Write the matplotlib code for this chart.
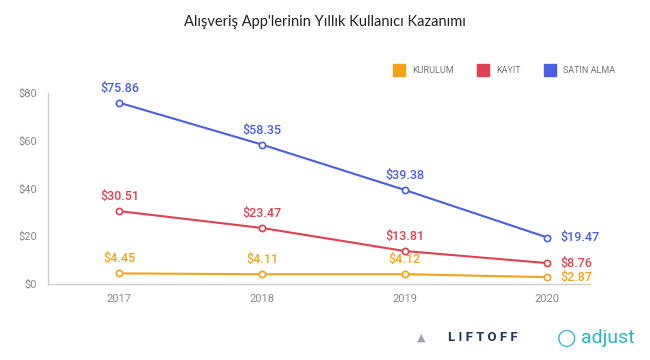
import matplotlib.pyplot as plt
from matplotlib.lines import Line2D

plt.rcParams['font.family'] = ['Roboto', 'DejaVu Sans']

years = [2017, 2018, 2019, 2020]
kurulum = [4.45, 4.11, 4.12, 2.87]
kayit = [30.51, 23.47, 13.81, 8.76]
satin_alma = [75.86, 58.35, 39.38, 19.47]
series_names = ['KURULUM', 'KAYIT', 'SATIN ALMA']
y_ticks = [0, 20, 40, 60, 80]

colors = ['#F5A21B', '#E0404F', '#4A5FE0']

fig = plt.figure(figsize=(6.5, 3.6), dpi=100)
fig.patch.set_facecolor('white')
ax = fig.add_axes([0.074, 0.211, 0.834, 0.531])

for vals, c in zip([kurulum, kayit, satin_alma], colors):
    ax.plot(years, vals, color=c, lw=1.5, marker='o', ms=4.5,
            mfc='white', mec=c, mew=1.2, zorder=3)
    for x, v in zip(years, vals):
        if x == years[-1]:
            ax.annotate(f'${v:.2f}', (x, v), xytext=(9, 0), textcoords='offset points',
                        ha='left', va='center', color=c, fontsize=9, fontweight='medium')
        else:
            ax.annotate(f'${v:.2f}', (x, v), xytext=(0, 10.5), textcoords='offset points',
                        ha='center', va='center', color=c, fontsize=9, fontweight='medium')

ax.set_xlim(2016.5, 2020.3)
ax.set_ylim(0, 80)
ax.set_xticks(years)
ax.set_yticks(y_ticks)
ax.set_yticklabels([f'${t}' for t in y_ticks])
ax.tick_params(length=0, labelsize=8, colors='#8a8a8a')
ax.tick_params(axis='x', pad=7)
ax.tick_params(axis='y', pad=8)
for s in ['top', 'right']:
    ax.spines[s].set_visible(False)
for s in ['left', 'bottom']:
    ax.spines[s].set_color('#cccccc')
    ax.spines[s].set_linewidth(1)

fig.text(0.5, 0.938, "Alışveriş App'lerinin Yıllık Kullanıcı Kazanımı",
         ha='center', va='center', fontsize=10.5, color='#222222',
         family=['Lato', 'DejaVu Sans'])

handles = [Line2D([], [], ls='none', marker='s', ms=8, color=c) for c in colors]
fig.legend(handles, series_names, loc='center', bbox_to_anchor=(0.773, 0.805), ncol=3,
           frameon=False, fontsize=6.5, handletextpad=0.5, columnspacing=2.2,
           labelcolor='#777777')

# logos
fig.text(0.648, 0.062, '\u25B2', ha='center', va='center', fontsize=8, color='#9aa6b2',
         family='DejaVu Sans')
fig.text(0.743, 0.062, 'L I F T O F F', ha='center', va='center', fontsize=9.5,
         fontweight='bold', color='#1f3b57')
fig.text(0.872, 0.062, '\u25CB', ha='center', va='center', fontsize=16,
         color='#2bb3c6', family='DejaVu Sans')
fig.text(0.935, 0.062, 'adjust', ha='center', va='center', fontsize=14,
         color='#2bb3c6')

fig.savefig('out.png', dpi=100)
